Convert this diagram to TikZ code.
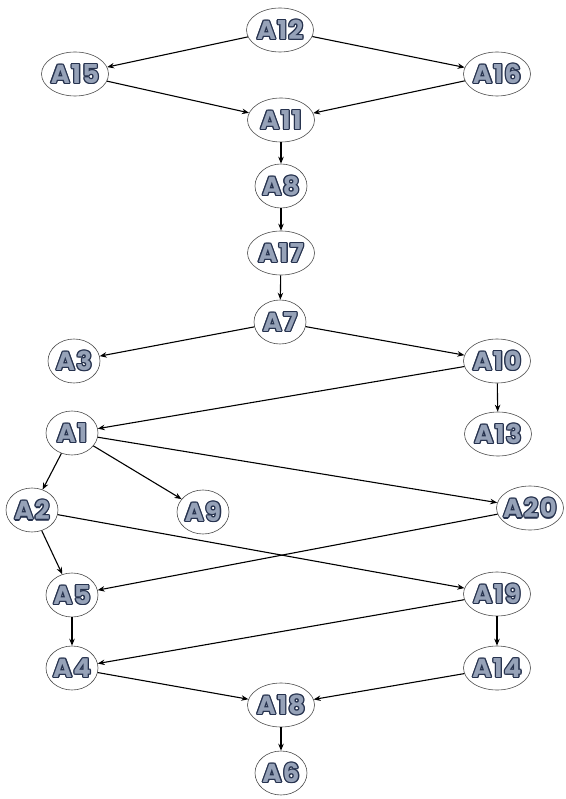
\documentclass[tikz,border=0pt]{standalone}
\usepackage{fontspec}
\setmainfont{Poppins}[LetterSpace=5]
\usetikzlibrary{shapes.geometric,arrows.meta}
\definecolor{lbl}{RGB}{150,162,184}
\definecolor{lbldk}{RGB}{38,50,78}
\tikzset{
  nd/.style={ellipse,draw=black!70,line width=0.6pt,fill=white,inner sep=0pt,
    minimum height=44pt,minimum width=52pt,font=\fontsize{26}{26}\selectfont\bfseries},
  nw/.style={nd,minimum width=67pt},
  ar/.style={-{Stealth[length=7pt,width=5.5pt]},line width=1.1pt,black}
}
\newcommand{\shf}[3]{\makebox[0pt][c]{\raisebox{#2}{\kern#1\textcolor{lbldk}{#3}\kern-#1}}}
\newcommand{\lb}[1]{\makebox[0pt][c]{%
  \shf{1.3pt}{0pt}{#1}\shf{-1.3pt}{0pt}{#1}\shf{0pt}{1.3pt}{#1}\shf{0pt}{-1.3pt}{#1}%
  \shf{0.9pt}{0.9pt}{#1}\shf{-0.9pt}{0.9pt}{#1}\shf{0.9pt}{-0.9pt}{#1}\shf{-0.9pt}{-0.9pt}{#1}%
  \makebox[0pt][c]{\textcolor{lbl}{#1}}}}
\begin{document}
\begin{tikzpicture}[x=1pt,y=-1pt]
\useasboundingbox (0,0) rectangle (565,799);
\node[nw] (A12) at (280,30) {\lb{A12}};
\node[nw] (A15) at (75,74) {\lb{A15}};
\node[nw] (A16) at (497,74) {\lb{A16}};
\node[nw] (A11) at (281,120) {\lb{A11}};
\node[nd] (A8) at (281,186) {\lb{A8}};
\node[nw] (A17) at (281,253) {\lb{A17}};
\node[nd] (A7) at (280,322) {\lb{A7}};
\node[nd] (A3) at (74,361) {\lb{A3}};
\node[nw] (A10) at (497,361) {\lb{A10}};
\node[nd] (A1) at (72,433) {\lb{A1}};
\node[nw] (A13) at (498,434) {\lb{A13}};
\node[nd] (A2) at (32,510) {\lb{A2}};
\node[nd] (A9) at (203,512) {\lb{A9}};
\node[nw] (A20) at (530,508) {\lb{A20}};
\node[nd] (A5) at (72,595) {\lb{A5}};
\node[nw] (A19) at (497,594) {\lb{A19}};
\node[nd] (A4) at (72,668) {\lb{A4}};
\node[nw] (A14) at (497,668) {\lb{A14}};
\node[nw] (A18) at (281,705) {\lb{A18}};
\node[nd] (A6) at (281,773) {\lb{A6}};
\draw[ar] (A12) -- (A15);
\draw[ar] (A12) -- (A16);
\draw[ar] (A15) -- (A11);
\draw[ar] (A16) -- (A11);
\draw[ar] (A11) -- (A8);
\draw[ar] (A8) -- (A17);
\draw[ar] (A17) -- (A7);
\draw[ar] (A7) -- (A3);
\draw[ar] (A7) -- (A10);
\draw[ar] (A10) -- (A1);
\draw[ar] (A10) -- (A13);
\draw[ar] (A1) -- (A2);
\draw[ar] (A1) -- (A9);
\draw[ar] (A1) -- (A20);
\draw[ar] (A2) -- (A5);
\draw[ar] (A2) -- (A19);
\draw[ar] (A20) -- (A5);
\draw[ar] (A5) -- (A4);
\draw[ar] (A19) -- (A4);
\draw[ar] (A19) -- (A14);
\draw[ar] (A4) -- (A18);
\draw[ar] (A14) -- (A18);
\draw[ar] (A18) -- (A6);
\end{tikzpicture}
\end{document}
